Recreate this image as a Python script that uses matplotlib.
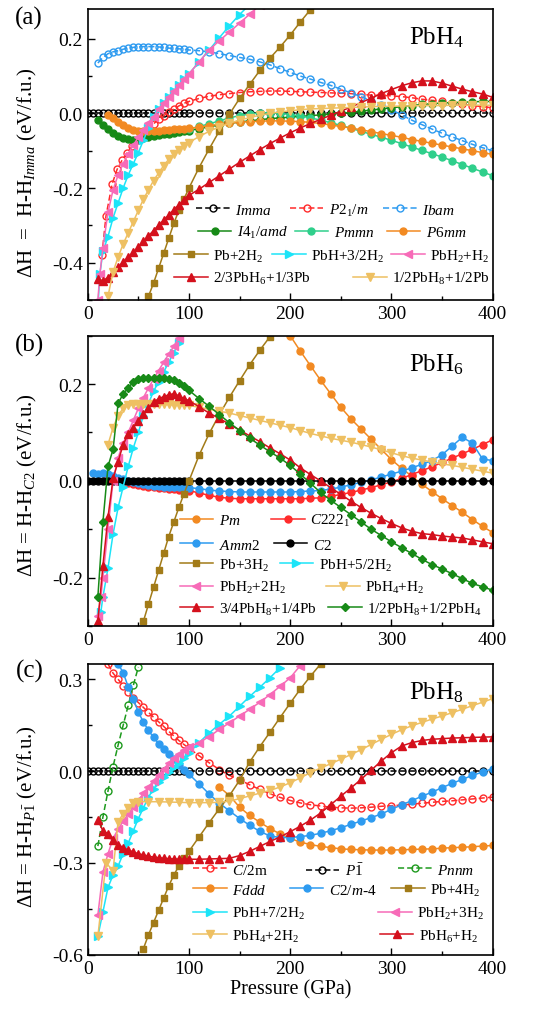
import matplotlib
matplotlib.use('Agg')
import matplotlib.pyplot as plt
from matplotlib.legend import Legend
from matplotlib.ticker import MultipleLocator

plt.rcParams['font.family'] = ['Liberation Serif', 'DejaVu Serif']
plt.rcParams['mathtext.fontset'] = 'custom'
plt.rcParams['mathtext.rm'] = 'Liberation Serif'
plt.rcParams['mathtext.it'] = 'Liberation Serif:italic'
plt.rcParams['mathtext.bf'] = 'Liberation Serif:bold'
plt.rcParams['axes.unicode_minus'] = False


def steps(a, b, s):
    return list(range(a, b + 1, s))


# pressure grids (GPa)
hi = steps(100, 400, 10)

# ---------------- (a) PbH4, relative to Imma ----------------
a_imma_x = steps(0, 95, 5) + hi
a_imma_y = [0.0] * len(a_imma_x)

a_p21m_x = [14, 18, 24, 29, 34, 39, 44, 50, 55, 60, 65, 70, 75, 80, 85, 90, 95] + hi
a_p21m_y = [-0.38, -0.275, -0.19, -0.15, -0.125, -0.105, -0.088, -0.07, -0.055, -0.04, -0.028,
            -0.016, -0.006, 0.003, 0.012, 0.02, 0.027,
            0.032, 0.04, 0.046, 0.05, 0.053, 0.056, 0.058, 0.059, 0.06, 0.06, 0.059, 0.058, 0.057,
            0.056, 0.055, 0.054, 0.053, 0.051, 0.049, 0.048, 0.047, 0.045, 0.042, 0.038, 0.035,
            0.032, 0.028, 0.024, 0.021, 0.018, 0.015]

a_ibam_x = steps(10, 95, 5) + hi
a_ibam_y = [0.135, 0.15, 0.16, 0.165, 0.168, 0.172, 0.175, 0.177, 0.178, 0.179, 0.179, 0.179,
            0.178, 0.177, 0.175, 0.174, 0.173, 0.172,
            0.17, 0.168, 0.165, 0.16, 0.155, 0.15, 0.145, 0.138, 0.13, 0.12, 0.11, 0.1, 0.092,
            0.083, 0.075, 0.065, 0.055, 0.045, 0.033, 0.022, 0.01, -0.004, -0.018, -0.03, -0.042,
            -0.053, -0.063, -0.073, -0.083, -0.092, -0.1]

a_i41_x = steps(10, 95, 5) + hi
a_i41_y = [-0.018, -0.03, -0.042, -0.052, -0.06, -0.066, -0.069, -0.07, -0.069, -0.067, -0.064,
           -0.061, -0.058, -0.056, -0.054, -0.052, -0.05, -0.048,
           -0.046, -0.041, -0.036, -0.031, -0.027, -0.023, -0.02, -0.017, -0.014, -0.012, -0.01,
           -0.008, -0.006, -0.004, -0.002, 0.0, 0.003, 0.006, 0.009, 0.012, 0.015, 0.018, 0.021,
           0.024, 0.026, 0.028, 0.029, 0.03, 0.031, 0.032, 0.032]

a_pmmn_x = hi
a_pmmn_y = [-0.042, -0.035, -0.028, -0.02, -0.012, -0.006, -0.002, 0.001, 0.002, 0.0, -0.003,
            -0.007, -0.012, -0.018, -0.025, -0.032, -0.04, -0.048, -0.056, -0.064, -0.072, -0.081,
            -0.09, -0.099, -0.108, -0.117, -0.127, -0.137, -0.147, -0.157, -0.167]

a_p6mm_x = steps(20, 95, 5) + hi
a_p6mm_y = [-0.003, -0.013, -0.023, -0.032, -0.039, -0.044, -0.047, -0.048, -0.048, -0.047,
            -0.046, -0.045, -0.044, -0.043, -0.042, -0.041,
            -0.04, -0.037, -0.033, -0.029, -0.026, -0.024, -0.022, -0.021, -0.02, -0.02, -0.021,
            -0.022, -0.024, -0.027, -0.031, -0.035, -0.039, -0.044, -0.049, -0.054, -0.059, -0.064,
            -0.07, -0.075, -0.08, -0.085, -0.09, -0.095, -0.1, -0.105, -0.11]

a_pb_x = steps(60, 95, 5) + steps(100, 220, 10)
a_pb_y = [-0.49, -0.455, -0.415, -0.375, -0.335, -0.295, -0.26, -0.23, -0.2, -0.145, -0.095,
          -0.047, -0.002, 0.04, 0.078, 0.115, 0.148, 0.178, 0.21, 0.245, 0.278]

a_pbh_x = [10, 12, 15] + steps(20, 95, 5) + steps(100, 160, 10)
a_pbh_y = [-0.52, -0.43, -0.37, -0.33, -0.28, -0.24, -0.2, -0.165, -0.135, -0.105, -0.072, -0.04,
           -0.01, 0.012, 0.028, 0.044, 0.06, 0.076, 0.091,
           0.106, 0.138, 0.17, 0.203, 0.235, 0.265, 0.292]

a_pbh2_x = [10, 12, 15] + steps(20, 95, 5) + steps(100, 170, 10)
a_pbh2_y = [-0.5, -0.43, -0.36, -0.265, -0.205, -0.165, -0.135, -0.108, -0.085, -0.064, -0.044,
            -0.026, -0.01, 0.012, 0.028, 0.044, 0.06, 0.076, 0.091,
            0.106, 0.138, 0.17, 0.195, 0.218, 0.242, 0.266, 0.29]

a_pbh6_x = steps(10, 95, 5) + hi
a_pbh6_y = [-0.445, -0.448, -0.44, -0.425, -0.412, -0.398, -0.385, -0.372, -0.358, -0.343,
            -0.328, -0.314, -0.3, -0.286, -0.272, -0.258, -0.245, -0.232,
            -0.22, -0.203, -0.185, -0.167, -0.149, -0.131, -0.114, -0.097, -0.081, -0.066, -0.052,
            -0.039, -0.027, -0.016, -0.005, 0.006, 0.017, 0.029, 0.041, 0.053, 0.064, 0.074, 0.082,
            0.087, 0.087, 0.081, 0.073, 0.065, 0.058, 0.052, 0.043]

a_pbh8_x = steps(20, 95, 5) + hi
a_pbh8_y = [-0.49, -0.425, -0.385, -0.35, -0.32, -0.29, -0.26, -0.23, -0.205, -0.18, -0.16,
            -0.14, -0.123, -0.11, -0.098, -0.088,
            -0.078, -0.062, -0.048, -0.036, -0.026, -0.018, -0.011, -0.005, 0.0, 0.004, 0.007,
            0.01, 0.012, 0.013, 0.014, 0.015, 0.016, 0.017, 0.018, 0.019, 0.019, 0.02, 0.02,
            0.021, 0.021, 0.021, 0.022, 0.022, 0.022, 0.022, 0.022]

# ---------------- (b) PbH6, relative to C2 ----------------
b_pm_x = steps(200, 400, 10)
b_pm_y = [0.3, 0.268, 0.238, 0.208, 0.18, 0.152, 0.128, 0.107, 0.086, 0.065, 0.044, 0.026, 0.01,
          -0.007, -0.022, -0.037, -0.051, -0.065, -0.08, -0.094, -0.107]

b_c2221_x = steps(20, 95, 5) + hi
b_c2221_y = [0.005, 0.003, 0.0, -0.003, -0.005, -0.007, -0.009, -0.011, -0.012, -0.013, -0.014,
             -0.015, -0.016, -0.017, -0.018, -0.019,
             -0.02, -0.025, -0.03, -0.034, -0.036, -0.037, -0.037, -0.037, -0.037, -0.037, -0.037,
             -0.037, -0.036, -0.035, -0.032, -0.028, -0.024, -0.019, -0.014, -0.008, -0.002,
             0.005, 0.013, 0.021, 0.029, 0.038, 0.047, 0.056, 0.065, 0.075, 0.085]

b_amm2_x = steps(5, 95, 5) + hi
b_amm2_y = [0.017, 0.014, 0.016, 0.014, 0.01, 0.006, 0.003, 0.0, -0.003, -0.005, -0.007, -0.009,
            -0.01, -0.011, -0.012, -0.012, -0.013, -0.013, -0.014,
            -0.014, -0.016, -0.019, -0.021, -0.022, -0.023, -0.023, -0.023, -0.023, -0.023,
            -0.023, -0.022, -0.021, -0.02, -0.017, -0.013, -0.008, -0.003, 0.002, 0.008, 0.014,
            0.02, 0.027, 0.034, 0.042, 0.054, 0.072, 0.09, 0.078, 0.045, 0.042]

b_c2_x = steps(0, 95, 5) + hi
b_c2_y = [0.0] * len(b_c2_x)

b_pb_x = steps(55, 95, 5) + steps(100, 180, 10)
b_pb_y = [-0.29, -0.255, -0.22, -0.185, -0.15, -0.115, -0.085, -0.055, -0.027,
          0.0, 0.053, 0.098, 0.137, 0.173, 0.207, 0.24, 0.27, 0.298]

b_pbh_x = [10, 13, 15] + steps(20, 95, 5)
b_pbh_y = [-0.36, -0.27, -0.24, -0.18, -0.11, -0.055, -0.012, 0.03, 0.068, 0.1, 0.135, 0.16,
           0.185, 0.205, 0.225, 0.245, 0.265, 0.285, 0.305]

b_pbh2_x = [10, 13, 15] + steps(20, 95, 5)
b_pbh2_y = [-0.28, -0.24, -0.2, -0.1, 0.0, 0.048, 0.078, 0.1, 0.125, 0.15, 0.172, 0.192, 0.21,
            0.228, 0.245, 0.262, 0.278, 0.295, 0.312]

b_pbh4_x = steps(20, 95, 5) + hi
b_pbh4_y = [0.075, 0.11, 0.135, 0.15, 0.156, 0.158, 0.159, 0.159, 0.159, 0.159, 0.159, 0.158,
            0.158, 0.157, 0.157, 0.156,
            0.156, 0.152, 0.148, 0.144, 0.14, 0.135, 0.13, 0.125, 0.12, 0.115, 0.11, 0.104, 0.098,
            0.093, 0.088, 0.084, 0.08, 0.075, 0.07, 0.064, 0.058, 0.052, 0.047, 0.043, 0.039,
            0.035, 0.032, 0.028, 0.024, 0.02, 0.016]

b_pbh8pb_x = steps(10, 95, 5) + hi
b_pbh8pb_y = [-0.29, -0.175, -0.075, 0.005, 0.04, 0.075, 0.097, 0.11, 0.124, 0.138, 0.151, 0.162,
              0.17, 0.174, 0.178, 0.18, 0.176, 0.17,
              0.166, 0.153, 0.14, 0.129, 0.117, 0.105, 0.093, 0.081, 0.068, 0.056, 0.043, 0.027,
              0.013, 0.0, -0.014, -0.028, -0.042, -0.055, -0.067, -0.078, -0.088, -0.097, -0.104,
              -0.109, -0.111, -0.114, -0.116, -0.118, -0.122, -0.126, -0.13]

b_pbh8pbh4_x = steps(10, 95, 5) + hi
b_pbh8pbh4_y = [-0.24, -0.085, 0.03, 0.065, 0.16, 0.18, 0.192, 0.205, 0.21, 0.212, 0.212, 0.212,
                0.212, 0.212, 0.21, 0.208, 0.203, 0.196,
                0.187, 0.17, 0.154, 0.137, 0.12, 0.104, 0.088, 0.074, 0.06, 0.047, 0.032, 0.014,
                -0.005, -0.024, -0.04, -0.055, -0.07, -0.085, -0.1, -0.113, -0.126, -0.138, -0.15,
                -0.162, -0.173, -0.182, -0.192, -0.202, -0.212, -0.219, -0.226]

# ---------------- (c) PbH8, relative to P-1 ----------------
c_c2m_x = steps(20, 95, 5) + hi
c_c2m_y = [0.35, 0.32, 0.3, 0.279, 0.259, 0.24, 0.224, 0.208, 0.192, 0.176, 0.161, 0.146, 0.13,
           0.115, 0.1, 0.087,
           0.075, 0.05, 0.027, 0.005, -0.014, -0.028, -0.045, -0.06, -0.074, -0.086, -0.096,
           -0.104, -0.11, -0.114, -0.118, -0.12, -0.121, -0.12, -0.118, -0.115, -0.113, -0.111,
           -0.108, -0.105, -0.102, -0.099, -0.097, -0.094, -0.091, -0.088, -0.085]

c_p1_x = steps(0, 95, 5) + hi
c_p1_y = [0.0] * len(c_p1_x)

c_pnnm_x = steps(10, 50, 5)
c_pnnm_y = [-0.245, -0.15, -0.065, 0.015, 0.085, 0.15, 0.215, 0.28, 0.34]

c_fddd_x = steps(130, 400, 10)
c_fddd_y = [-0.052, -0.08, -0.118, -0.145, -0.167, -0.188, -0.205, -0.22, -0.232, -0.24, -0.246,
            -0.25, -0.254, -0.256, -0.257, -0.258, -0.258, -0.258, -0.257, -0.256, -0.255,
            -0.254, -0.252, -0.25, -0.249, -0.247, -0.245, -0.243]

c_c2m4_x = steps(30, 95, 5) + hi
c_c2m4_y = [0.35, 0.322, 0.275, 0.235, 0.193, 0.16, 0.133, 0.11, 0.09, 0.072, 0.055, 0.038, 0.02,
            0.005,
            -0.01, -0.042, -0.075, -0.105, -0.13, -0.155, -0.177, -0.197, -0.212, -0.217, -0.217,
            -0.214, -0.21, -0.203, -0.195, -0.185, -0.174, -0.163, -0.152, -0.14, -0.125, -0.11,
            -0.097, -0.082, -0.069, -0.054, -0.04, -0.027, -0.014, -0.003, 0.008]

c_pb_x = steps(55, 95, 5) + steps(100, 230, 10)
c_pb_y = [-0.58, -0.535, -0.495, -0.455, -0.415, -0.375, -0.34, -0.31, -0.285,
          -0.262, -0.215, -0.168, -0.123, -0.08, -0.03, 0.03, 0.08, 0.127, 0.175, 0.222, 0.268,
          0.31, 0.35]

c_pbh_x = steps(10, 95, 5) + steps(100, 190, 10)
c_pbh_y = [-0.54, -0.46, -0.38, -0.34, -0.31, -0.27, -0.235, -0.195, -0.155, -0.12, -0.085,
           -0.058, -0.037, -0.018, -0.002, 0.013, 0.028, 0.044,
           0.06, 0.093, 0.125, 0.153, 0.18, 0.212, 0.244, 0.274, 0.305, 0.338]

c_pbh2_x = steps(10, 95, 5) + steps(100, 210, 10)
c_pbh2_y = [-0.47, -0.33, -0.27, -0.22, -0.19, -0.163, -0.14, -0.118, -0.095, -0.073, -0.052,
            -0.032, -0.012, 0.007, 0.025, 0.042, 0.056, 0.068,
            0.078, 0.093, 0.113, 0.136, 0.158, 0.18, 0.202, 0.225, 0.25, 0.277, 0.305, 0.345]

c_pbh4_x = [10, 18, 25, 30, 35, 40, 45] + steps(50, 90, 10) + hi
c_pbh4_y = [-0.54, -0.3, -0.325, -0.165, -0.14, -0.12, -0.105,
            -0.1, -0.1, -0.1, -0.101, -0.102,
            -0.103, -0.103, -0.103, -0.102, -0.098, -0.09, -0.081, -0.072, -0.063, -0.052, -0.038,
            -0.022, -0.005, 0.01, 0.024, 0.039, 0.054, 0.07, 0.087, 0.104, 0.12, 0.135, 0.148,
            0.159, 0.17, 0.18, 0.191, 0.202, 0.214, 0.225, 0.237]

c_pbh6_x = steps(10, 95, 5) + hi
c_pbh6_y = [-0.16, -0.195, -0.205, -0.225, -0.24, -0.25, -0.258, -0.264, -0.27, -0.274, -0.278,
            -0.281, -0.283, -0.285, -0.286, -0.287, -0.288, -0.288,
            -0.288, -0.288, -0.287, -0.286, -0.285, -0.276, -0.262, -0.246, -0.23, -0.215, -0.198,
            -0.18, -0.16, -0.137, -0.11, -0.082, -0.055, -0.027, 0.003, 0.033, 0.06, 0.082, 0.093,
            0.1, 0.104, 0.106, 0.108, 0.109, 0.11, 0.111, 0.112]

# colours
BLACK = '#000000'
RED = '#FF2B2B'
BLUE = '#2E9BF0'
DGREEN = '#178A17'
TEAL = '#2FCF8B'
ORANGE = '#F28A22'
BROWN = '#A27B18'
CYAN = '#1CE4F8'
PINK = '#F76BB8'
DRED = '#D4101C'
YELLOW = '#EEC062'


def draw(ax, x, y, color, marker, label, hollow=False, ms=5.0):
    if hollow:
        line, = ax.plot(x, y, ls=(0, (4, 2)), lw=1.1, color=color, marker=marker, ms=ms,
                        mfc='none', mec=color, mew=1.0, label=label)
    else:
        line, = ax.plot(x, y, ls='-', lw=1.1, color=color, marker=marker, ms=ms,
                        mfc=color, mec=color, label=label)
    return line


# one legend per entry so each key sits where the original put it
def add_keys(ax, lines, spots):
    for line, (px, py) in zip(lines, spots):
        leg = Legend(ax, [line], [line.get_label()], loc='center left', bbox_to_anchor=(px, py),
                     frameon=False, fontsize=11, handlelength=2.2, handletextpad=0.35,
                     borderpad=0, borderaxespad=0)
        ax.add_artist(leg)


def frame(ax, ylim, major, minor, ylabel, label_y, formula):
    ax.set_xlim(0, 400)
    ax.set_ylim(*ylim)
    ax.xaxis.set_major_locator(MultipleLocator(100))
    ax.xaxis.set_minor_locator(MultipleLocator(50))
    ax.yaxis.set_major_locator(MultipleLocator(major))
    ax.yaxis.set_minor_locator(MultipleLocator(minor))
    ax.tick_params(which='both', direction='in', top=False, right=False, labelsize=14, width=1)
    ax.tick_params(which='major', length=5)
    ax.tick_params(which='minor', length=3)
    for s in ax.spines.values():
        s.set_linewidth(1.2)
    ax.set_ylabel(ylabel, fontsize=15)
    ax.yaxis.set_label_coords(-0.12, label_y)
    ax.text(0.794, 0.905, formula, transform=ax.transAxes, fontsize=18, ha='left', va='center')


fig = plt.figure(figsize=(5.45, 10.12), dpi=100)
ax_a = fig.add_axes([0.161, 0.7026, 0.743, 0.2876])
ax_b = fig.add_axes([0.161, 0.3804, 0.743, 0.2869])
ax_c = fig.add_axes([0.161, 0.0556, 0.743, 0.2873])

# panel (a)
la = [
    draw(ax_a, a_imma_x, a_imma_y, BLACK, 'o', r'$Imma$', hollow=True),
    draw(ax_a, a_p21m_x, a_p21m_y, RED, 'o', r'$P2_1/m$', hollow=True),
    draw(ax_a, a_ibam_x, a_ibam_y, BLUE, 'o', r'$Ibam$', hollow=True),
    draw(ax_a, a_i41_x, a_i41_y, DGREEN, 'o', r'$I4_1/amd$'),
    draw(ax_a, a_pmmn_x, a_pmmn_y, TEAL, 'o', r'$Pmmn$'),
    draw(ax_a, a_p6mm_x, a_p6mm_y, ORANGE, 'o', r'$P6mm$'),
    draw(ax_a, a_pb_x, a_pb_y, BROWN, 's', r'Pb+2H$_2$', ms=4.5),
    draw(ax_a, a_pbh_x, a_pbh_y, CYAN, '>', r'PbH+3/2H$_2$', ms=5.5),
    draw(ax_a, a_pbh2_x, a_pbh2_y, PINK, '<', r'PbH$_2$+H$_2$', ms=5.5),
    draw(ax_a, a_pbh6_x, a_pbh6_y, DRED, '^', r'2/3PbH$_6$+1/3Pb', ms=5.5),
    draw(ax_a, a_pbh8_x, a_pbh8_y, YELLOW, 'v', r'1/2PbH$_8$+1/2Pb', ms=5.5),
]
frame(ax_a, (-0.5, 0.28), 0.2, 0.1, r'ΔH  =  H-H$_{Imma}$ (eV/f.u.)', 0.44, r'PbH$_4$')
add_keys(ax_a, la, [(0.268, 0.31), (0.499, 0.31), (0.73, 0.31),
                    (0.272, 0.233), (0.511, 0.233), (0.738, 0.233),
                    (0.214, 0.152), (0.456, 0.152), (0.75, 0.152),
                    (0.214, 0.074), (0.655, 0.074)])

# panel (b)
lb = [
    draw(ax_b, b_pm_x, b_pm_y, ORANGE, 'o', r'$Pm$'),
    draw(ax_b, b_c2221_x, b_c2221_y, RED, 'o', r'$C222_1$'),
    draw(ax_b, b_amm2_x, b_amm2_y, BLUE, 'o', r'$Amm2$'),
    draw(ax_b, b_c2_x, b_c2_y, BLACK, 'o', r'$C2$'),
    draw(ax_b, b_pb_x, b_pb_y, BROWN, 's', r'Pb+3H$_2$', ms=4.5),
    draw(ax_b, b_pbh_x, b_pbh_y, CYAN, '>', r'PbH+5/2H$_2$', ms=5.5),
    draw(ax_b, b_pbh2_x, b_pbh2_y, PINK, '<', r'PbH$_2$+2H$_2$', ms=5.5),
    draw(ax_b, b_pbh4_x, b_pbh4_y, YELLOW, 'v', r'PbH$_4$+H$_2$', ms=5.5),
    draw(ax_b, b_pbh8pb_x, b_pbh8pb_y, DRED, '^', r'3/4PbH$_8$+1/4Pb', ms=5.5),
    draw(ax_b, b_pbh8pbh4_x, b_pbh8pbh4_y, DGREEN, 'D', r'1/2PbH$_8$+1/2PbH$_4$', ms=4.5),
]
frame(ax_b, (-0.3, 0.3), 0.2, 0.1, r'ΔH = H-H$_{C2}$ (eV/f.u.)', 0.49, r'PbH$_6$')
add_keys(ax_b, lb, [(0.227, 0.364), (0.453, 0.364),
                    (0.227, 0.28), (0.459, 0.28),
                    (0.227, 0.211), (0.474, 0.211),
                    (0.227, 0.134), (0.589, 0.134),
                    (0.227, 0.06), (0.594, 0.06)])

# panel (c)
lc = [
    draw(ax_c, c_c2m_x, c_c2m_y, RED, 'o', r'$C$/2m', hollow=True),
    draw(ax_c, c_p1_x, c_p1_y, BLACK, 'o', r'$P\bar{1}$', hollow=True),
    draw(ax_c, c_pnnm_x, c_pnnm_y, '#1E9A1E', 'o', r'$Pnnm$', hollow=True),
    draw(ax_c, c_fddd_x, c_fddd_y, ORANGE, 'o', r'$Fddd$'),
    draw(ax_c, c_c2m4_x, c_c2m4_y, BLUE, 'o', r'$C2/m$-4'),
    draw(ax_c, c_pb_x, c_pb_y, BROWN, 's', r'Pb+4H$_2$', ms=4.5),
    draw(ax_c, c_pbh_x, c_pbh_y, CYAN, '>', r'PbH+7/2H$_2$', ms=5.5),
    draw(ax_c, c_pbh2_x, c_pbh2_y, PINK, '<', r'PbH$_2$+3H$_2$', ms=5.5),
    draw(ax_c, c_pbh4_x, c_pbh4_y, YELLOW, 'v', r'PbH$_4$+2H$_2$', ms=5.5),
    draw(ax_c, c_pbh6_x, c_pbh6_y, DRED, '^', r'PbH$_6$+H$_2$', ms=5.5),
]
frame(ax_c, (-0.6, 0.35), 0.3, 0.15, r'ΔH = H-H$_{P\bar{1}}$ (eV/f.u.)', 0.48, r'PbH$_8$')
add_keys(ax_c, lc, [(0.26, 0.292), (0.538, 0.292), (0.767, 0.292),
                    (0.26, 0.224), (0.499, 0.224), (0.75, 0.224),
                    (0.26, 0.142), (0.717, 0.142),
                    (0.26, 0.065), (0.721, 0.065)])
ax_c.set_xlabel('Pressure (GPa)', fontsize=14.5, labelpad=2)

fig.text(0.053, 0.982, '(a)', fontsize=18, ha='center', va='center')
fig.text(0.055, 0.659, '(b)', fontsize=18, ha='center', va='center')
fig.text(0.055, 0.337, '(c)', fontsize=18, ha='center', va='center')

fig.savefig('out.png', dpi=100)
